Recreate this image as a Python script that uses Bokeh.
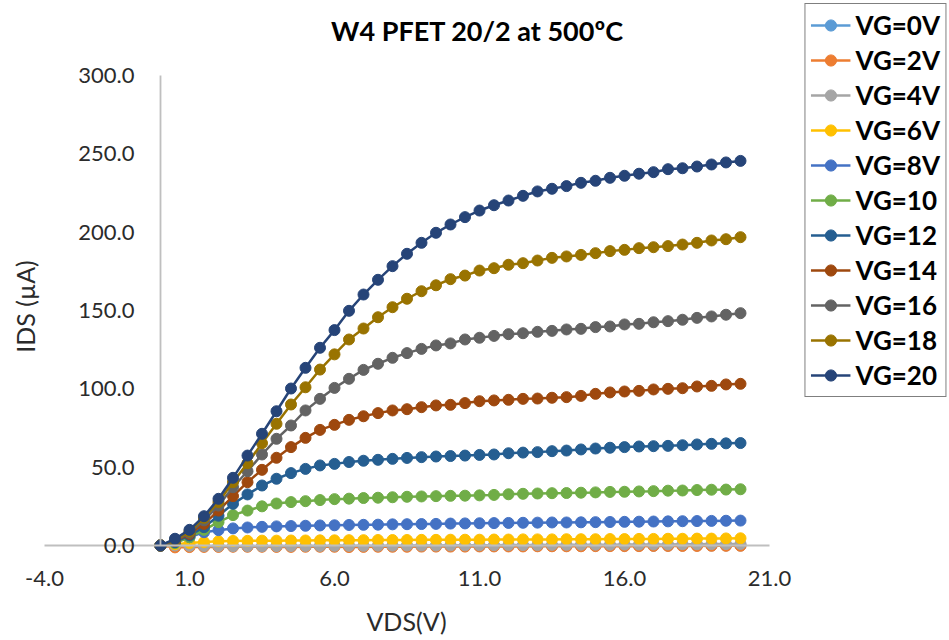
import math
from bokeh.plotting import figure
from bokeh.models import (LinearAxis, FixedTicker, NumeralTickFormatter, Legend,
                          LegendItem, Range1d, Label)
from bokeh.embed import file_html
from bokeh.resources import INLINE

# ---------------- data ----------------
vds = [0.0, 0.5, 1.0, 1.5, 2.0, 2.5, 3.0, 3.5, 4.0, 4.5,
       5.0, 5.5, 6.0, 6.5, 7.0, 7.5, 8.0, 8.5, 9.0, 9.5,
       10.0, 10.5, 11.0, 11.5, 12.0, 12.5, 13.0, 13.5, 14.0, 14.5,
       15.0, 15.5, 16.0, 16.5, 17.0, 17.5, 18.0, 18.5, 19.0, 19.5,
       20.0]

ids_vg0 = [0, -0.4, -0.5, -0.5, -0.5, -0.5, -0.5, -0.5, -0.5, -0.5,
           -0.4, -0.4, -0.4, -0.4, -0.4, -0.4, -0.4, -0.3, -0.3, -0.3,
           -0.3, -0.3, -0.3, -0.3, -0.2, -0.2, -0.2, -0.2, -0.2, -0.2,
           -0.1, -0.1, -0.1, -0.1, -0.1, -0.1, 0.0, 0.0, 0.0, 0.0,
           0.0]
ids_vg2 = [0, -1.2, -1.0, -0.9, -0.9, -0.8, -0.8, -0.8, -0.9, -0.9,
           -0.8, -0.8, -0.8, -1.0, -0.9, -0.8, -0.8, -0.8, -0.7, -0.7,
           -0.7, -0.7, -0.6, -0.6, -0.6, -0.6, -0.5, -0.5, -0.5, -0.5,
           -0.4, -0.4, -0.4, -0.4, -0.3, -0.3, -0.3, -0.3, -0.2, -0.2,
           -0.2]
ids_vg4 = [0, 0.0, -0.2, -0.3, -0.4, -0.4, -0.4, -0.4, -0.4, -0.3,
           -0.3, -0.3, -0.2, -0.2, -0.2, -0.1, -0.1, 0.0, 0.0, 0.0,
           0.1, 0.1, 0.2, 0.2, 0.3, 0.3, 0.3, 0.4, 0.4, 0.5,
           0.5, 0.5, 0.6, 0.6, 0.7, 0.7, 0.8, 0.8, 0.9, 0.9,
           1.0]
ids_vg6 = [0, 0.8, 1.6, 2.2, 2.7, 2.9, 3.0, 3.1, 3.1, 3.2,
           3.2, 3.3, 3.3, 3.4, 3.4, 3.5, 3.5, 3.5, 3.6, 3.6,
           3.7, 3.7, 3.7, 3.8, 3.8, 3.9, 3.9, 3.9, 4.0, 4.0,
           4.0, 4.1, 4.1, 4.2, 4.2, 4.3, 4.3, 4.4, 4.4, 4.5,
           4.6]
ids_vg8 = [0, 1.9, 5.3, 8.5, 9.8, 10.9, 11.5, 11.9, 12.2, 12.4,
           12.6, 12.8, 12.9, 13.1, 13.2, 13.3, 13.5, 13.6, 13.7, 13.8,
           14.0, 14.1, 14.2, 14.3, 14.4, 14.5, 14.6, 14.7, 14.7, 14.8,
           14.9, 15.0, 15.1, 15.2, 15.3, 15.4, 15.5, 15.6, 15.7, 15.8,
           15.9]
ids_vg10 = [0, 1.5, 5.3, 10.0, 14.9, 19.4, 22.3, 25.0, 26.8, 27.7,
            28.3, 29.0, 29.6, 29.9, 30.3, 30.5, 30.8, 31.1, 31.3, 31.5,
            31.7, 31.8, 32.0, 32.3, 32.7, 33.0, 33.2, 33.4, 33.5, 33.7,
            33.9, 34.2, 34.3, 34.5, 34.7, 35.0, 35.1, 35.4, 35.6, 35.7,
            35.9]
ids_vg12 = [0, 2.1, 6.4, 11.7, 19.0, 26.6, 32.6, 38.3, 42.6, 46.2,
            48.9, 51.1, 52.1, 53.3, 54.1, 54.7, 55.3, 55.9, 56.4, 56.8,
            57.1, 57.4, 57.8, 58.1, 58.9, 59.3, 59.6, 60.2, 60.6, 61.3,
            61.9, 62.4, 62.8, 63.2, 63.4, 63.6, 64.0, 64.5, 64.9, 65.2,
            65.4]
ids_vg14 = [0, 2.8, 7.4, 13.8, 22.3, 31.5, 40.4, 48.3, 56.0, 62.8,
            68.7, 73.8, 77.0, 80.2, 82.5, 84.5, 86.2, 87.0, 88.3, 89.4,
            89.8, 90.9, 92.1, 92.6, 93.0, 93.6, 93.8, 94.3, 94.7, 95.5,
            96.8, 97.7, 98.3, 98.7, 99.6, 100.0, 100.4, 101.5, 101.9, 102.8,
            103.2]
ids_vg16 = [0, 3.2, 8.1, 16.0, 25.5, 37.2, 47.4, 58.1, 68.1, 76.6,
            86.2, 93.6, 100.6, 106.4, 112.1, 116.0, 119.8, 122.8, 125.5, 127.7,
            129.0, 131.5, 132.6, 133.8, 134.9, 135.5, 136.4, 137.0, 137.9, 138.3,
            139.4, 139.8, 141.1, 141.5, 142.5, 143.2, 144.1, 145.3, 146.2, 147.3,
            148.3]
ids_vg18 = [0, 3.6, 8.9, 17.7, 27.7, 40.4, 52.5, 65.3, 77.7, 90.0,
            101.0, 112.3, 122.0, 131.5, 138.5, 145.7, 152.1, 157.5, 162.3, 166.1,
            170.0, 172.3, 175.5, 177.0, 179.2, 180.2, 181.9, 183.6, 184.5, 185.5,
            186.6, 187.9, 188.7, 189.8, 190.4, 191.1, 192.1, 193.2, 194.7, 195.5,
            196.8]
ids_vg20 = [0, 4.3, 10.0, 18.7, 29.8, 43.2, 57.4, 71.3, 85.7, 100.2,
            113.4, 126.2, 137.5, 149.8, 160.2, 169.6, 178.3, 186.2, 193.2, 199.6,
            204.9, 209.6, 213.8, 217.2, 220.2, 223.2, 226.0, 227.7, 229.4, 231.5,
            232.8, 234.7, 236.0, 237.3, 238.3, 240.2, 240.8, 241.9, 243.2, 244.5,
            245.5]

series_names = ["VG=0V", "VG=2V", "VG=4V", "VG=6V", "VG=8V", "VG=10",
                "VG=12", "VG=14", "VG=16", "VG=18", "VG=20"]
series_values = [ids_vg0, ids_vg2, ids_vg4, ids_vg6, ids_vg8, ids_vg10,
                 ids_vg12, ids_vg14, ids_vg16, ids_vg18, ids_vg20]
colors = ["#5B9BD5", "#ED7D31", "#A5A5A5", "#FFC000", "#4472C4", "#70AD47",
          "#255E91", "#9E480E", "#636363", "#997300", "#264478"]

x_ticks = [-4, 1, 6, 11, 16, 21]
y_ticks = [0, 50, 100, 150, 200, 250, 300]

title_text = "W4 PFET 20/2 at 500\u00baC"
x_title = "VDS(V)"
y_title = "IDS (\u00b5A)"

FONT = "Lato"
TXT = "#2B2B2B"

# ---------------- figure ----------------
# the plot frame covers the whole canvas; axes sit at x=0 / y=0
W, H = 949, 640
PX_X = 29.0          # pixels per volt
PX_Y = 470.0 / 300   # pixels per uA
X0_PX, Y0_PX = 160, 545   # canvas position of the origin
x_start = -X0_PX / PX_X
x_end = (W - X0_PX) / PX_X
y_start = -(H - Y0_PX) / PX_Y
y_end = Y0_PX / PX_Y

p = figure(width=W, height=H,
           x_range=Range1d(x_start, x_end), y_range=Range1d(y_start, y_end),
           output_backend="svg", toolbar_location=None,
           x_axis_location=None, y_axis_location=None,
           min_border_left=0, min_border_right=0,
           min_border_top=0, min_border_bottom=0)
p.grid.visible = False
p.outline_line_color = None
p.background_fill_color = "white"
p.border_fill_color = "white"

xaxis = LinearAxis(fixed_location=0, ticker=FixedTicker(ticks=x_ticks),
                   formatter=NumeralTickFormatter(format="0.0"),
                   bounds=(x_ticks[0], x_ticks[-1]))
yaxis = LinearAxis(fixed_location=0, ticker=FixedTicker(ticks=y_ticks),
                   formatter=NumeralTickFormatter(format="0.0"),
                   bounds=(y_ticks[0], y_ticks[-1]))
for ax in (xaxis, yaxis):
    ax.axis_line_color = "#BFBFBF"
    ax.axis_line_width = 1.8
    ax.major_tick_line_color = None
    ax.minor_tick_line_color = None
    ax.major_tick_out = 0
    ax.major_tick_in = 0
    ax.minor_tick_out = 0
    ax.minor_tick_in = 0
    ax.major_label_text_font = FONT
    ax.major_label_text_font_size = "22px"
    ax.major_label_text_color = TXT
xaxis.major_label_standoff = 25
yaxis.major_label_standoff = 26
p.add_layout(xaxis, "below")
p.add_layout(yaxis, "left")

# titles (placed in data coordinates of the canvas-filling frame)
p.add_layout(Label(x=(477 - X0_PX) / PX_X, y=(Y0_PX - 30) / PX_Y, text=title_text,
                   text_align="center", text_baseline="middle",
                   text_font=FONT, text_font_size="27px", text_font_style="bold",
                   text_color="black"))
p.add_layout(Label(x=(406 - X0_PX) / PX_X, y=(Y0_PX - 620) / PX_Y, text=x_title,
                   text_align="center", text_baseline="middle",
                   text_font=FONT, text_font_size="25px", text_color=TXT))
p.add_layout(Label(x=(24 - X0_PX) / PX_X, y=(Y0_PX - 306) / PX_Y, text=y_title,
                   angle=math.pi / 2, text_align="center", text_baseline="middle",
                   text_font=FONT, text_font_size="25px", text_color=TXT))

items = []
for name, vals, col in zip(series_names, series_values, colors):
    lr = p.line(vds, vals, line_color=col, line_width=2.5)
    sr = p.scatter(vds, vals, size=11, fill_color=col, line_color=col)
    items.append(LegendItem(label=name, renderers=[lr, sr]))

legend = Legend(items=items, location="top_right", orientation="vertical")
legend.label_text_font = FONT
legend.label_text_font_size = "26px"
legend.label_text_font_style = "bold"
legend.label_text_color = "black"
legend.glyph_width = 40
legend.glyph_height = 28
legend.label_height = 28
legend.spacing = 3
legend.padding = 5
legend.margin = 3
legend.label_standoff = 5
legend.border_line_color = "black"
legend.border_line_width = 1.5
legend.background_fill_color = "white"
legend.background_fill_alpha = 1.0
p.add_layout(legend, "center")

open("out.html", "w").write(file_html(p, INLINE))
